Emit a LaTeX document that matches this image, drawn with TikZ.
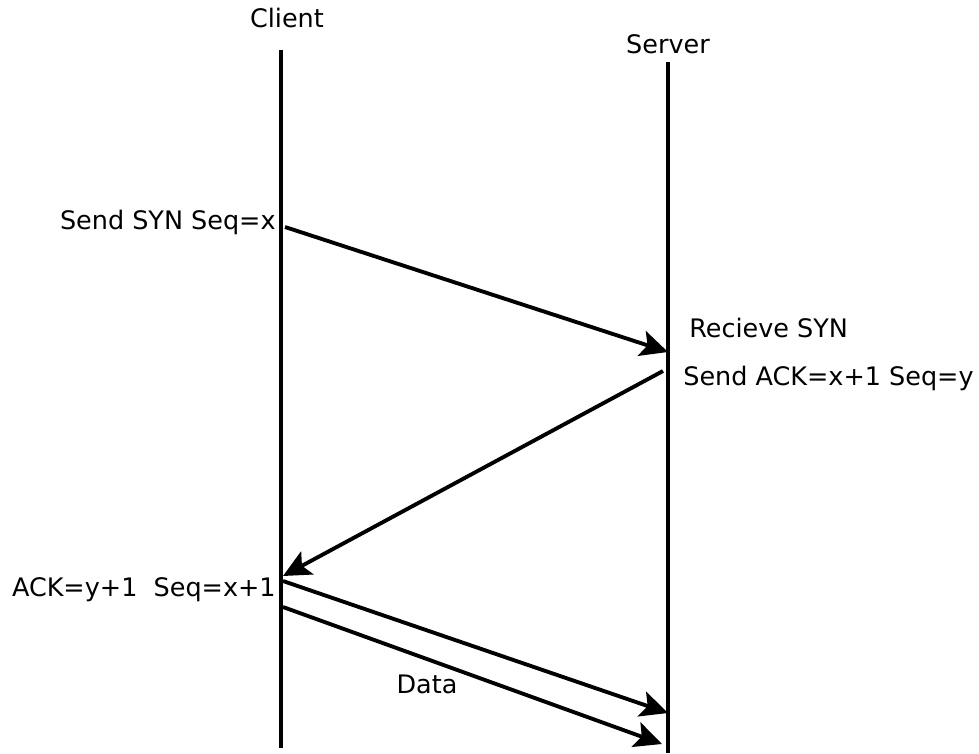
\documentclass[tikz,border=0pt]{standalone}
\usepackage{fontspec}
\setmainfont{DejaVu Sans}
\usetikzlibrary{arrows.meta}
\begin{document}
\begin{tikzpicture}[x=0.02cm, y=-0.02cm,
   lifeline/.style={line width=2.2pt},
   message/.style={line width=2.2pt, -{Stealth[length=0.55cm, width=0.52cm, inset=0.12cm]}},
   every node/.style={font=\fontsize{14.5}{17}\selectfont, inner sep=0pt}]
\useasboundingbox (0,0) rectangle (979,753);

% lifelines
\node[anchor=base] (client) at (287,28) {Client};
\node[anchor=base] (server) at (668,54) {Server};
\coordinate (clienttop) at (281,50);
\coordinate (clientbot) at (281,748);
\coordinate (servertop) at (668,62);
\coordinate (serverbot) at (668,753);
\draw[lifeline] (clienttop) -- (clientbot);
\draw[lifeline] (servertop) -- (serverbot);

% message ends
\coordinate (synout) at (285,227);
\coordinate (synin) at (668,352);
\coordinate (ackout) at (663,371);
\coordinate (ackin) at (283,576);
\coordinate (lastout) at (283,581);
\coordinate (lastin) at (668,713);
\coordinate (dataout) at (283,607);
\coordinate (datain) at (662,744);

% messages
\draw[message] (synout) -- (synin);
\draw[message] (ackout) -- (ackin);
\draw[message] (lastout) -- (lastin);
\draw[message] (dataout) -- (datain);

% labels
\node[anchor=base east] (synlabel) at (276,229) {Send SYN Seq=x};
\node[anchor=base west] (recvlabel) at (689,337) {Recieve SYN};
\node[anchor=base west] (acklabel) at (683,385) {Send ACK=x+1 Seq=y};
\node[anchor=base east] (lastlabel) at (276,596) {ACK=y+1\ \ Seq=x+1};
\node[anchor=base] (datalabel) at (427,693) {Data};

\end{tikzpicture}
\end{document}
